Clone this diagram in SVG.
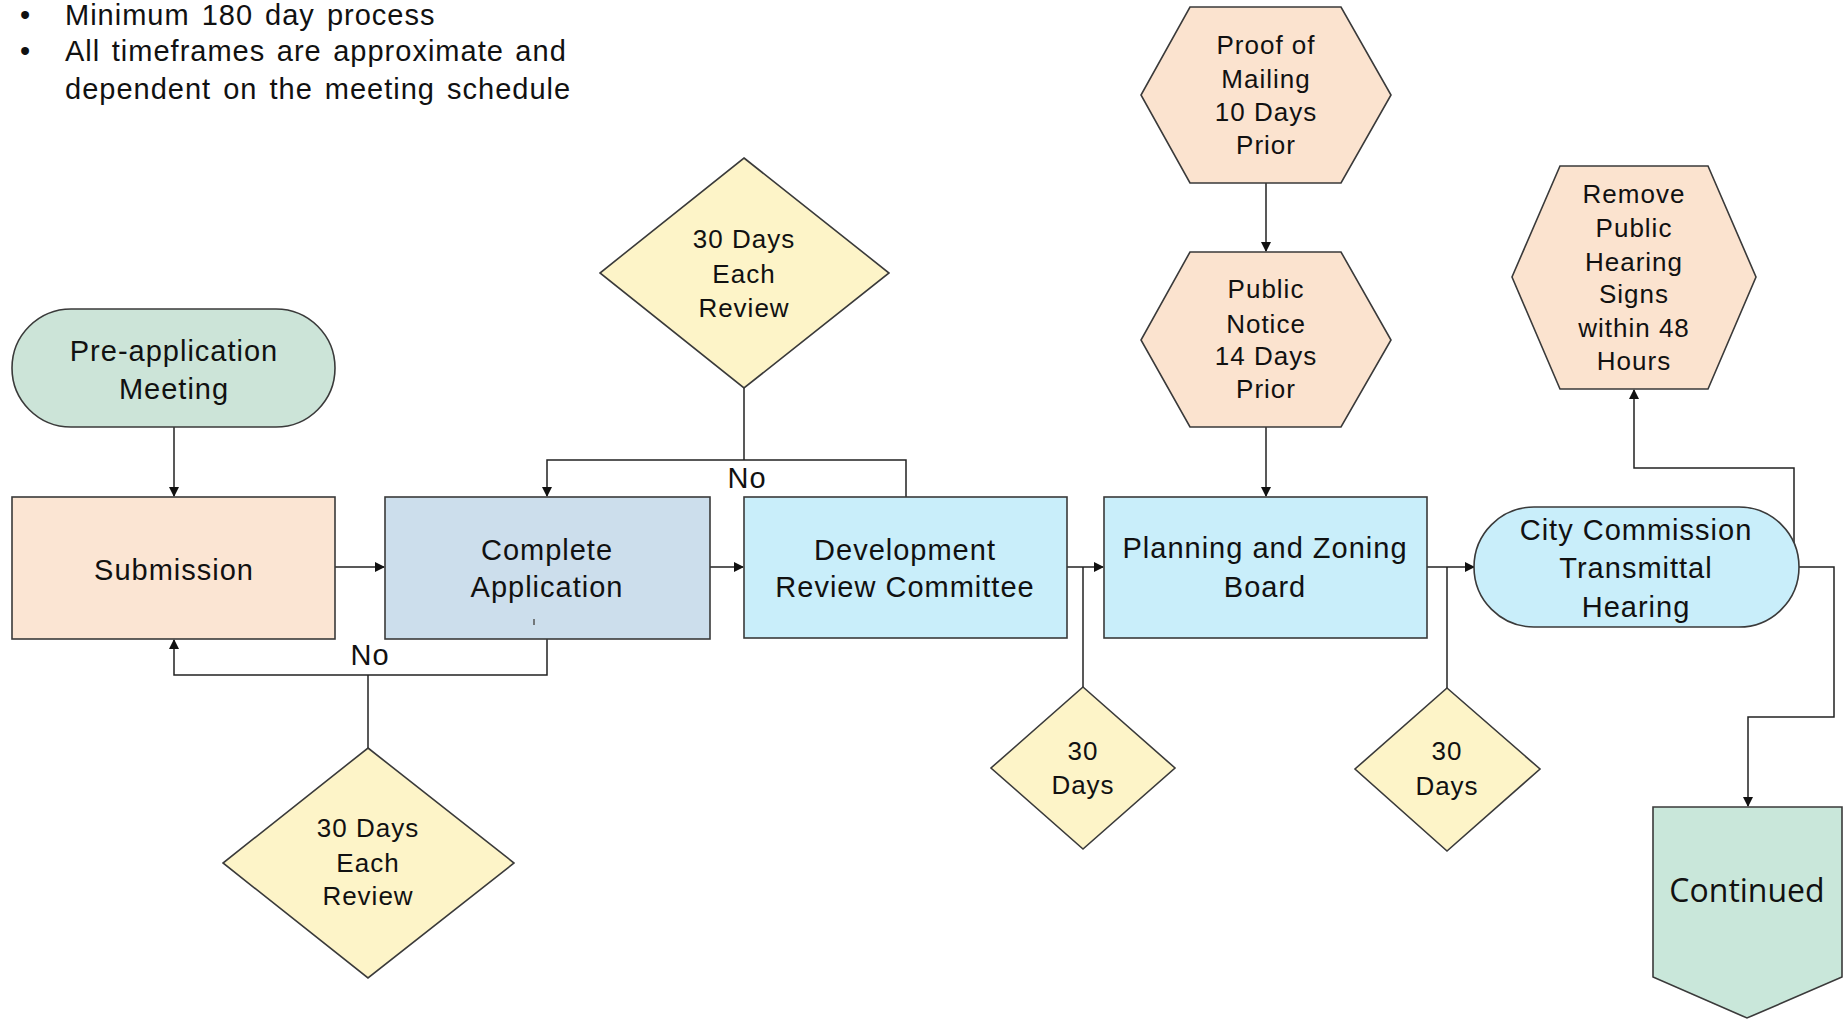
<svg xmlns="http://www.w3.org/2000/svg" width="1845" height="1019" viewBox="0 0 1845 1019">
<defs>
<marker id="ah" markerWidth="10" markerHeight="10" refX="9" refY="5" orient="auto" markerUnits="userSpaceOnUse">
<path d="M0,0 L10,5 L0,10 z" fill="#111"/>
</marker>
<style>
.s{stroke:#3a3a3a;stroke-width:1.6}
.t{font-family:"Liberation Sans",Arial,sans-serif;fill:#111;text-anchor:middle}
.m{font-size:29px;letter-spacing:1px}
.h{font-size:26px;letter-spacing:1px}
.c{fill:none;stroke:#222;stroke-width:1.5}
.a{marker-end:url(#ah)}
</style>
</defs>
<rect width="1845" height="1019" fill="#fff"/>

<g id="notes" class="t" style="text-anchor:start;font-size:29px;letter-spacing:1px">
<text x="20" y="25">•</text><text x="65" y="25" word-spacing="3">Minimum 180 day process</text>
<text x="20" y="61">•</text><text x="65" y="61" word-spacing="2.5">All timeframes are approximate and</text>
<text x="65" y="99" word-spacing="3">dependent on the meeting schedule</text>
</g>

<g id="connectors">
<path class="c a" d="M174,427 V496"/>
<path class="c a" d="M335,567 H384"/>
<path class="c a" d="M710,567 H743"/>
<path class="c a" d="M1067,567 H1103"/>
<path class="c" d="M1083,567 V687"/>
<path class="c a" d="M1427,567 H1474"/>
<path class="c" d="M1447,567 V688"/>
<path class="c" d="M744,388 V460"/>
<path class="c a" d="M906,497 V460 H547 V496"/>
<path class="c a" d="M547,639 V675 H174 V640"/>
<path class="c" d="M368,675 V748"/>
<path class="c a" d="M1266,183 V251"/>
<path class="c a" d="M1266,427 V496"/>
<path class="c a" d="M1794,543 V468 H1634 V390"/>
<path class="c a" d="M1799,567 H1834 V717 H1748 V806"/>
</g>

<g id="preapp">
<rect class="s" x="12" y="309" width="323" height="118" rx="59" fill="#cce4d8"/>
<text class="t m" x="174" y="361">Pre-application</text>
<text class="t m" x="174" y="399">Meeting</text>
</g>

<g id="submission">
<rect class="s" x="12" y="497" width="323" height="142" fill="#fbe5d3"/>
<text class="t m" x="174" y="580">Submission</text>
</g>

<g id="complete">
<rect class="s" x="385" y="497" width="325" height="142" fill="#ccdeec"/>
<text class="t m" x="547" y="560">Complete</text>
<text class="t m" x="547" y="597">Application</text>
<path d="M534,619 V625" stroke="#555" stroke-width="1.5"/>
</g>

<g id="drc">
<rect class="s" x="744" y="497" width="323" height="141" fill="#c9eefa"/>
<text class="t m" x="905" y="560">Development</text>
<text class="t m" x="905" y="597">Review Committee</text>
</g>

<g id="pzb">
<rect class="s" x="1104" y="497" width="323" height="141" fill="#c9eefa"/>
<text class="t m" x="1265" y="558">Planning and Zoning</text>
<text class="t m" x="1265" y="597">Board</text>
</g>

<g id="cc">
<rect class="s" x="1474" y="507" width="325" height="120" rx="60" fill="#c9eefa"/>
<text class="t m" x="1636" y="540">City Commission</text>
<text class="t m" x="1636" y="578">Transmittal</text>
<text class="t m" x="1636" y="617">Hearing</text>
</g>

<g id="diamondTop">
<polygon class="s" points="744,158 889,273 744,388 600,273" fill="#fdf4c8"/>
<text class="t h" x="744" y="248">30 Days</text>
<text class="t h" x="744" y="283">Each</text>
<text class="t h" x="744" y="317">Review</text>
</g>

<g id="diamondBottom">
<polygon class="s" points="368,748 514,863 368,978 223,863" fill="#fdf4c8"/>
<text class="t h" x="368" y="837">30 Days</text>
<text class="t h" x="368" y="872">Each</text>
<text class="t h" x="368" y="905">Review</text>
</g>

<g id="days1">
<polygon class="s" points="1083,687 1175,768 1083,849 991,768" fill="#fdf4c8"/>
<text class="t h" x="1083" y="760">30</text>
<text class="t h" x="1083" y="794">Days</text>
</g>

<g id="days2">
<polygon class="s" points="1447,688 1540,769 1447,851 1355,769" fill="#fdf4c8"/>
<text class="t h" x="1447" y="760">30</text>
<text class="t h" x="1447" y="795">Days</text>
</g>

<g id="proof">
<polygon class="s" points="1190,7 1341,7 1391,95 1341,183 1190,183 1141,95" fill="#fbe3cf"/>
<text class="t h" x="1266" y="54">Proof of</text>
<text class="t h" x="1266" y="88">Mailing</text>
<text class="t h" x="1266" y="121">10 Days</text>
<text class="t h" x="1266" y="154">Prior</text>
</g>

<g id="notice">
<polygon class="s" points="1190,252 1341,252 1391,340 1341,427 1190,427 1141,340" fill="#fbe3cf"/>
<text class="t h" x="1266" y="298">Public</text>
<text class="t h" x="1266" y="333">Notice</text>
<text class="t h" x="1266" y="365">14 Days</text>
<text class="t h" x="1266" y="398">Prior</text>
</g>

<g id="remove">
<polygon class="s" points="1560,166 1708,166 1756,277 1708,389 1560,389 1512,277" fill="#fbe3cf"/>
<text class="t h" x="1634" y="203">Remove</text>
<text class="t h" x="1634" y="237">Public</text>
<text class="t h" x="1634" y="271">Hearing</text>
<text class="t h" x="1634" y="303">Signs</text>
<text class="t h" x="1634" y="337">within 48</text>
<text class="t h" x="1634" y="370">Hours</text>
</g>

<g id="continued">
<polygon class="s" points="1653,807 1842,807 1842,977 1747,1018 1653,977" fill="#c9e7da"/>
<text x="1747" y="902" style="font-family:'Open Sans','Noto Sans',sans-serif;font-size:32px;fill:#111;text-anchor:middle">Continued</text>
</g>

<g id="labels">
<text class="t m" x="747" y="488">No</text>
<text class="t m" x="370" y="665">No</text>
</g>
</svg>
